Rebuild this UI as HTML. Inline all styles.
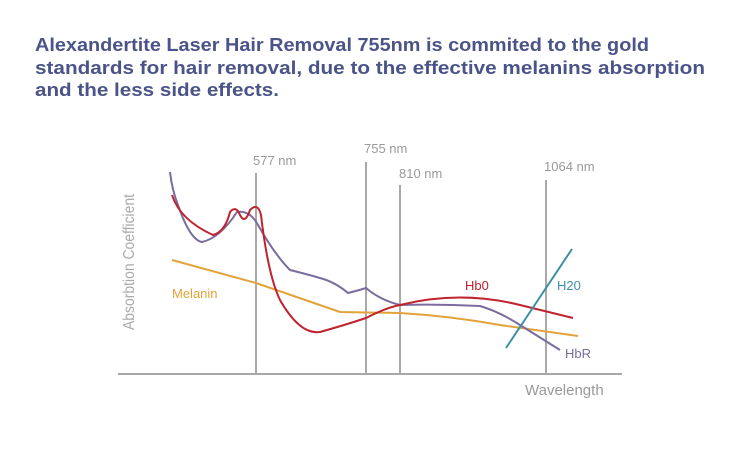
<!DOCTYPE html>
<html><head><style>body{margin:0;background:#fff}</style></head><body>
<svg width="750" height="450" xmlns="http://www.w3.org/2000/svg" font-family="Liberation Sans, sans-serif">
<g fill="#4a5488" font-weight="bold" font-size="18">
<text x="35" y="51" textLength="614" lengthAdjust="spacingAndGlyphs">Alexandertite Laser Hair Removal 755nm is commited to the gold</text>
<text x="35" y="74" textLength="670" lengthAdjust="spacingAndGlyphs">standards for hair removal, due to the effective melanins absorption</text>
<text x="35" y="96" textLength="244" lengthAdjust="spacingAndGlyphs">and the less side effects.</text>
</g>
<g stroke="#a9a9a9" stroke-width="2">
<line x1="118" y1="374" x2="622" y2="374"/>
<line x1="256" y1="173" x2="256" y2="374"/>
<line x1="366" y1="162" x2="366" y2="374"/>
<line x1="400" y1="185" x2="400" y2="374"/>
<line x1="546" y1="180" x2="546" y2="374"/>
</g>
<g fill="#999" font-size="13">
<text x="253" y="165">577 nm</text>
<text x="364" y="153">755 nm</text>
<text x="399" y="178">810 nm</text>
<text x="544" y="171">1064 nm</text>
<text x="525" y="395" font-size="15">Wavelength</text>
<text transform="translate(134,262) rotate(-90)" text-anchor="middle" font-size="16" fill="#aaa" textLength="136" lengthAdjust="spacingAndGlyphs">Absorbtion Coefficient</text>
</g>
<g fill="none" stroke-width="2">
<path stroke="#e3a23a" d="M172,260 L256,283 L340,312 L400,313 Q450,316 500,325 L578,336"/>
<path stroke="#7a6d9e" d="M170,172 Q172,190 178,205 Q190,240 202,242 Q220,238 237,212 Q250,210 258,225 Q275,255 290,270 Q310,275 320,278 Q335,282 348,293 Q360,290 366,288 Q380,300 400,305 Q440,304 480,306 Q500,312 520,325 L560,350"/>
<path stroke="#c0222e" d="M172,195 Q180,220 213,235 Q225,232 230,212 Q236,205 240,215 Q245,225 250,210 Q258,202 261,215 Q268,275 280,300 Q300,335 320,332 Q345,325 366,318 Q385,308 400,305 Q460,290 520,305 L573,318"/>
<path stroke="#3e8fa6" d="M506,348 L572,249"/>
</g>
<g font-size="13">
<text x="172" y="298" fill="#e3a23a">Melanin</text>
<text x="465" y="290" fill="#c0222e">Hb0</text>
<text x="557" y="290" fill="#3e8fa6">H20</text>
<text x="565" y="358" fill="#7a6d9e">HbR</text>
</g>
</svg>
</body></html>
